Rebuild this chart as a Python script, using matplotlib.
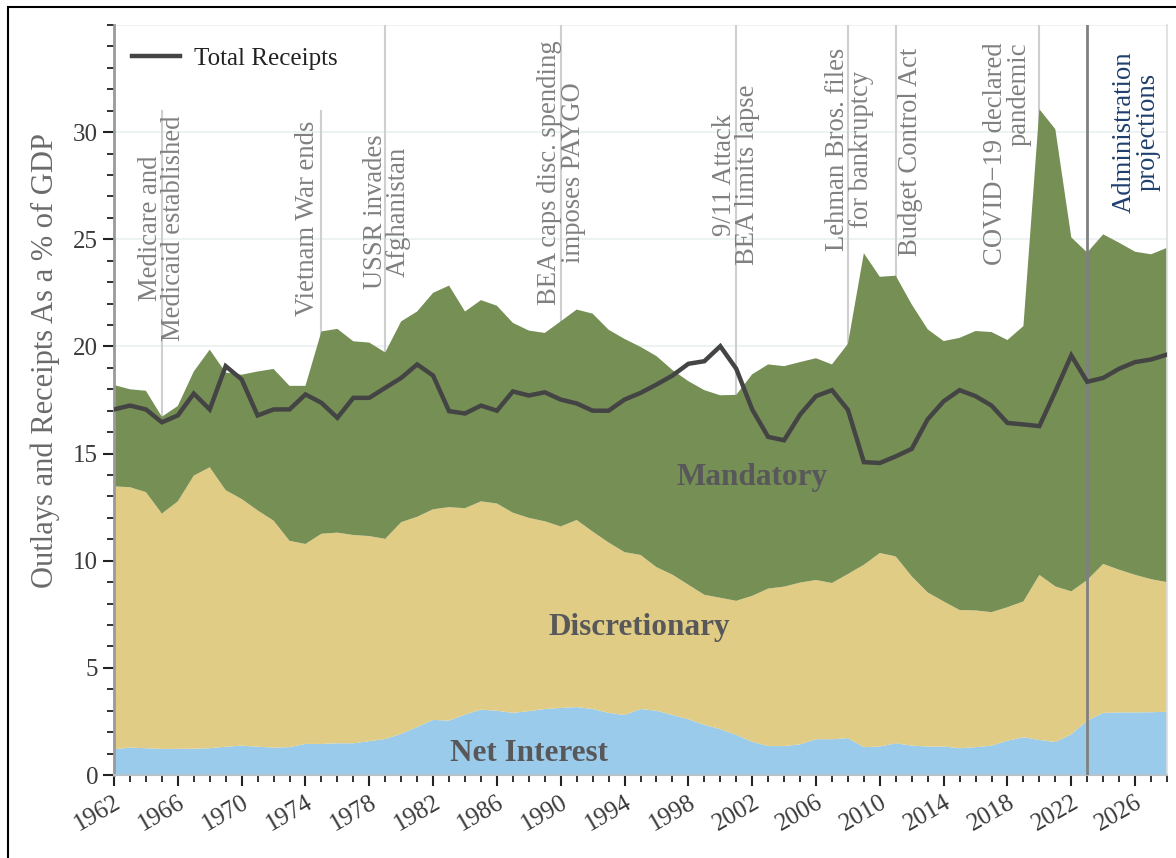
import matplotlib
matplotlib.use("Agg")
import matplotlib.pyplot as plt
from matplotlib.patches import Rectangle
from matplotlib.ticker import MultipleLocator, FixedLocator
import numpy as np

years = list(range(1962, 2029))

net_interest = [1.2, 1.28, 1.25, 1.22, 1.22, 1.23, 1.25, 1.32, 1.37, 1.32,
                1.28, 1.3, 1.45, 1.45, 1.48, 1.48, 1.58, 1.68, 1.92, 2.24,
                2.57, 2.54, 2.82, 3.05, 3.0, 2.9, 2.98, 3.08, 3.13, 3.17,
                3.08, 2.9, 2.8, 3.08, 3.0, 2.8, 2.6, 2.34, 2.14, 1.87,
                1.55, 1.35, 1.35, 1.43, 1.67, 1.67, 1.72, 1.3, 1.33, 1.48,
                1.37, 1.33, 1.33, 1.25, 1.3, 1.37, 1.6, 1.76, 1.64, 1.54,
                1.9, 2.53, 2.9, 2.92, 2.92, 2.93, 2.95]

discretionary = [12.27, 12.15, 11.95, 10.98, 11.55, 12.74, 13.11, 11.97, 11.51, 11.03,
                 10.59, 9.63, 9.33, 9.81, 9.83, 9.72, 9.57, 9.34, 9.88, 9.81,
                 9.83, 9.96, 9.63, 9.72, 9.67, 9.34, 9.02, 8.76, 8.47, 8.73,
                 8.28, 7.95, 7.6, 7.19, 6.7, 6.55, 6.28, 6.07, 6.13, 6.26,
                 6.81, 7.35, 7.44, 7.55, 7.43, 7.29, 7.66, 8.51, 9.03, 8.72,
                 7.9, 7.19, 6.77, 6.45, 6.38, 6.23, 6.23, 6.34, 7.7, 7.26,
                 6.67, 6.57, 6.95, 6.66, 6.42, 6.21, 6.05]

mandatory = [4.73, 4.57, 4.73, 4.52, 4.45, 4.86, 5.49, 5.49, 5.8, 6.48,
             7.08, 7.23, 7.38, 9.44, 9.51, 9.04, 9.03, 8.7, 9.37, 9.58,
             10.1, 10.34, 9.18, 9.39, 9.23, 8.86, 8.74, 8.79, 9.57, 9.82,
             10.17, 9.93, 9.95, 9.71, 9.85, 9.55, 9.5, 9.55, 9.45, 9.61,
             10.34, 10.46, 10.29, 10.29, 10.35, 10.2, 10.74, 14.54, 12.89, 13.1,
             12.69, 12.28, 12.15, 12.7, 13.04, 13.07, 12.47, 12.85, 21.73, 21.34,
             16.52, 15.28, 15.38, 15.26, 15.08, 15.16, 15.6]

receipts = [17.06, 17.24, 17.06, 16.46, 16.78, 17.8, 17.06, 19.08, 18.46, 16.78,
            17.06, 17.06, 17.76, 17.37, 16.67, 17.6, 17.6, 18.07, 18.53, 19.16,
            18.64, 16.98, 16.87, 17.24, 17.0, 17.9, 17.71, 17.86, 17.52, 17.34,
            17.0, 17.0, 17.52, 17.83, 18.22, 18.64, 19.19, 19.31, 20.01, 18.96,
            17.06, 15.78, 15.62, 16.82, 17.68, 17.96, 17.04, 14.6, 14.56, 14.87,
            15.22, 16.6, 17.44, 17.96, 17.68, 17.24, 16.43, 16.36, 16.28, 17.9,
            19.58, 18.35, 18.53, 18.96, 19.27, 19.39, 19.62]

event_years = [1965, 1975, 1979, 1990, 2001, 2008, 2011, 2020]
event_labels = ["Medicare and\nMedicaid established",
                "Vietnam War ends",
                "USSR invades\nAfghanistan",
                "BEA caps disc. spending\nimposes PAYGO",
                "9/11 Attack\nBEA limits lapse",
                "Lehman Bros. files\nfor bankruptcy",
                "Budget Control Act",
                "COVID\u221219 declared\npandemic"]
event_text_x = [1965.0, 1974.1, 1979.1, 1990.05, 2000.98, 2008.1, 2011.9, 2017.98]
event_text_y = [25.5, 26.0, 26.3, 28.1, 28.0, 29.2, 29.1, 29.0]
event_align = ["center", "center", "center", "center", "center", "center", "center", "right"]
event_line_top = [31, 31, 35, 35, 35, 35, 35, 35]

projection_year = 2023
projection_label = "Administration\nprojections"

FONT = "Liberation Serif"
plt.rcParams['font.family'] = [FONT, 'DejaVu Serif']

fig = plt.figure(figsize=(11.76, 8.58), dpi=100)
ax = fig.add_axes([114/1176, 1 - 775/858, (1167 - 114)/1176, (775 - 25)/858])

c_ni = "#9acbeb"
c_disc = "#e0cc84"
c_mand = "#758f55"

ymax = 35
for yr, top in zip(event_years, event_line_top):
    ax.axvline(yr, ymin=0, ymax=top / ymax, color="#cfcfcf", lw=1.5, zorder=1)

for yv in range(0, 36, 5):
    ax.axhline(yv, color="#eaf1f1", lw=1.2, zorder=0.5)

ax.stackplot(years, net_interest, discretionary, mandatory,
             colors=[c_ni, c_disc, c_mand], zorder=2, lw=0)

ax.axvline(projection_year, color="#808080", lw=2, zorder=4)

ax.plot(years, receipts, color="#444444", lw=3.2, zorder=5,
        label="Total Receipts", solid_joinstyle="miter")

for yr, lab, tx, ty, al in zip(event_years, event_labels, event_text_x, event_text_y, event_align):
    ax.text(tx, ty, lab, rotation=90, ha="center", va="center", multialignment=al,
            color="#808080", fontsize=19.2, linespacing=0.92, zorder=6)

ax.text(2026.05, 30.0, projection_label, rotation=90, ha="center", va="center",
        multialignment="center", color="#1f3f6e", fontsize=19.2, linespacing=0.92, zorder=6)

ax.text(2002.0, 13.9, "Mandatory", ha="center", va="center", color="#58585a",
        fontsize=22.5, fontweight="bold", zorder=6)
ax.text(1994.9, 6.9, "Discretionary", ha="center", va="center", color="#58585a",
        fontsize=22.5, fontweight="bold", zorder=6)
ax.text(1988.0, 1.0, "Net Interest", ha="center", va="center", color="#58585a",
        fontsize=22.5, fontweight="bold", zorder=6)

ax.set_xlim(1962, 2028)
ax.set_ylim(0, ymax)

ax.xaxis.set_major_locator(FixedLocator(list(range(1962, 2027, 4))))
ax.xaxis.set_minor_locator(MultipleLocator(1))
ax.yaxis.set_major_locator(FixedLocator([0, 5, 10, 15, 20, 25, 30]))
ax.yaxis.set_minor_locator(MultipleLocator(1))

ax.tick_params(axis="both", which="major", length=8, width=1.5, color="#222222",
               labelsize=18, labelcolor="#3a3a3a", direction="out")
ax.tick_params(axis="both", which="minor", length=5, width=1.3, color="#222222", direction="out")
plt.setp(ax.get_xticklabels(), rotation=30, ha="right", va="top", rotation_mode="anchor")

ax.set_ylabel("Outlays and Receipts As a % of GDP", fontsize=22, color="#6a6a6a")
ax.yaxis.set_label_coords(-0.051, 0.552)

ax.spines["top"].set_visible(False)
ax.spines["right"].set_color("#dddddd")
ax.spines["right"].set_linewidth(1.2)
ax.spines["left"].set_color("#999999")
ax.spines["left"].set_linewidth(2)
ax.spines["bottom"].set_color("#b8c4cc")
ax.spines["bottom"].set_linewidth(1.5)

leg = ax.legend(loc="upper left", frameon=False, fontsize=18, handlelength=1.9,
                bbox_to_anchor=(-0.004, 1.0), handletextpad=0.55)
for t in leg.get_texts():
    t.set_color("#222222")

fig.patches.append(Rectangle((8/1176, -0.05), 1.2, 1.05 - 7/858, transform=fig.transFigure,
                             fill=False, edgecolor="black", lw=1.5))

fig.savefig("out.png", dpi=100)
